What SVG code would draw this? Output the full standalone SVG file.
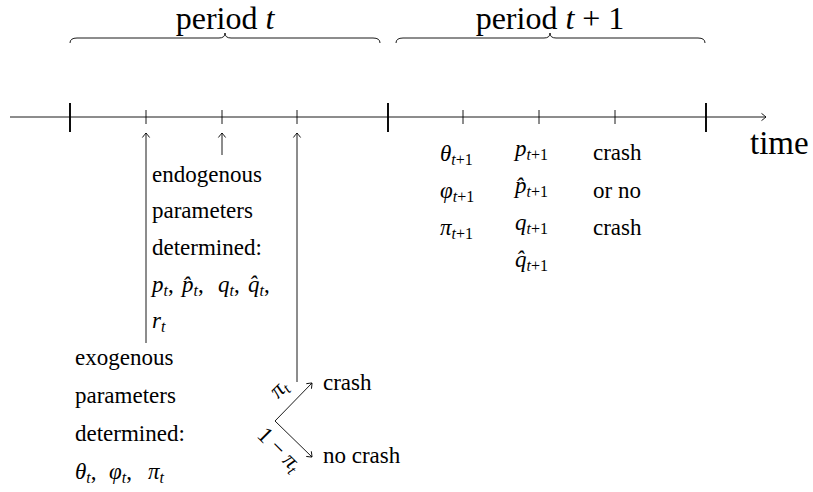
<svg xmlns="http://www.w3.org/2000/svg" width="813" height="492" viewBox="0 0 813 492">
<style>
text{font-family:"Liberation Serif","DejaVu Serif","Noto Serif",serif;fill:#000}
.s{font-size:23px}
.b{font-size:33px}
.h{font-size:32px}
.i{font-style:italic}
.sb{font-size:16px}
.ln{stroke:#000;stroke-width:0.9;fill:none}
.tk{stroke:#000;stroke-width:1.9}
.st{stroke:#000;stroke-width:0.9}
</style>
<defs>
<marker id="a" viewBox="-6 -5 8 10" markerWidth="8" markerHeight="10" refX="0" refY="0" orient="auto" markerUnits="userSpaceOnUse">
<path d="M-4.5,-3.6 Q-1,-1 0,0 Q-1,1 -4.5,3.6" fill="none" stroke="#000" stroke-width="0.9"/>
</marker>
</defs>
<g id="axis">
<line class="ln" x1="10" y1="117" x2="766" y2="117" marker-end="url(#a)"/>
<line class="tk" x1="70" y1="103" x2="70" y2="132"/>
<line class="tk" x1="388" y1="103" x2="388" y2="132"/>
<line class="tk" x1="706" y1="103" x2="706" y2="132"/>
<line class="st" x1="146" y1="110" x2="146" y2="124"/>
<line class="st" x1="222" y1="110" x2="222" y2="124"/>
<line class="st" x1="297" y1="110" x2="297" y2="124"/>
<line class="st" x1="463" y1="110" x2="463" y2="124"/>
<line class="st" x1="539" y1="110" x2="539" y2="124"/>
<line class="st" x1="615" y1="110" x2="615" y2="124"/>
<text class="b" x="750" y="154">time</text>
</g>
<g id="period-t">
<path class="ln" d="M70,43 Q70,38 77,38 L219,38 Q225,38 225,33 Q225,38 231,38 L373,38 Q380,38 380,43"/>
<text class="h" x="225" y="29" text-anchor="middle">period <tspan class="i">t</tspan></text>
</g>
<g id="period-t1">
<path class="ln" d="M396,43 Q396,38 403,38 L544,38 Q550,38 550,33 Q550,38 556,38 L698,38 Q705,38 705,43"/>
<text class="h" x="550" y="29" text-anchor="middle">period <tspan class="i">t</tspan> + 1</text>
</g>
<g id="connectors">
<line class="ln" x1="146" y1="343" x2="146" y2="133" marker-end="url(#a)"/>
<line class="ln" x1="222" y1="155" x2="222" y2="133" marker-end="url(#a)"/>
<line class="ln" x1="297" y1="382" x2="297" y2="133" marker-end="url(#a)"/>
<line class="ln" x1="275" y1="421" x2="312" y2="383" marker-end="url(#a)"/>
<line class="ln" x1="275" y1="421" x2="312" y2="457" marker-end="url(#a)"/>
</g>
<g id="endogenous">
<text class="s" x="152" y="182">endogenous</text>
<text class="s" x="152" y="218">parameters</text>
<text class="s" x="152" y="255">determined:</text>
<text class="s" x="152" y="292"><tspan class="i">p</tspan><tspan class="sb i" dy="4">t</tspan><tspan dy="-4">,</tspan></text>
<text class="s" x="182" y="292"><tspan class="i">p̂</tspan><tspan class="sb i" dy="4">t</tspan><tspan dy="-4">,</tspan></text>
<text class="s" x="218" y="292"><tspan class="i">q</tspan><tspan class="sb i" dy="4">t</tspan><tspan dy="-4">,</tspan></text>
<text class="s" x="248" y="292"><tspan class="i">q̂</tspan><tspan class="sb i" dy="4">t</tspan><tspan dy="-4">,</tspan></text>
<text class="s" x="152" y="328"><tspan class="i">r</tspan><tspan class="sb i" dy="4">t</tspan></text>
</g>
<g id="exogenous">
<text class="s" x="75" y="365">exogenous</text>
<text class="s" x="75" y="403">parameters</text>
<text class="s" x="75" y="441">determined:</text>
<text class="s" x="75" y="479"><tspan class="i">θ</tspan><tspan class="sb i" dy="4">t</tspan><tspan dy="-4">,</tspan></text>
<text class="s" x="109" y="479"><tspan class="i">φ</tspan><tspan class="sb i" dy="4">t</tspan><tspan dy="-4">,</tspan></text>
<text class="s" x="148" y="479"><tspan class="i">π</tspan><tspan class="sb i" dy="4">t</tspan></text>
</g>
<g id="branch">
<text class="s" text-anchor="middle" transform="translate(280,390) rotate(-45)" y="5"><tspan class="i">π</tspan><tspan class="sb i" dy="4">t</tspan></text>
<text class="s" text-anchor="middle" transform="translate(278,451) rotate(45)" y="5">1 − <tspan class="i">π</tspan><tspan class="sb i" dy="4">t</tspan></text>
<text class="s" x="323" y="390">crash</text>
<text class="s" x="323" y="463">no crash</text>
</g>
<g id="period-t1-events">
<text class="s" x="440" y="161"><tspan class="i">θ</tspan><tspan class="sb" dy="4"><tspan class="i">t</tspan>+1</tspan></text>
<text class="s" x="440" y="198"><tspan class="i">φ</tspan><tspan class="sb" dy="4"><tspan class="i">t</tspan>+1</tspan></text>
<text class="s" x="440" y="235"><tspan class="i">π</tspan><tspan class="sb" dy="4"><tspan class="i">t</tspan>+1</tspan></text>
<text class="s" x="515" y="156"><tspan class="i">p</tspan><tspan class="sb" dy="4"><tspan class="i">t</tspan>+1</tspan></text>
<text class="s" x="515" y="193"><tspan class="i">p̂</tspan><tspan class="sb" dy="4"><tspan class="i">t</tspan>+1</tspan></text>
<text class="s" x="515" y="230"><tspan class="i">q</tspan><tspan class="sb" dy="4"><tspan class="i">t</tspan>+1</tspan></text>
<text class="s" x="515" y="267"><tspan class="i">q̂</tspan><tspan class="sb" dy="4"><tspan class="i">t</tspan>+1</tspan></text>
<text class="s" x="593" y="160">crash</text>
<text class="s" x="593" y="198">or no</text>
<text class="s" x="593" y="235">crash</text>
</g>
</svg>
